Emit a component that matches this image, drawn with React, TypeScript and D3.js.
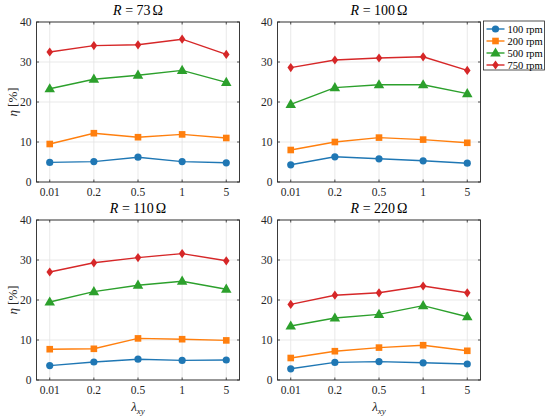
import * as d3 from 'd3';

// lambda_xy categories (evenly spaced on the axis)
const lambdas = ['0.01', '0.2', '0.5', '1', '5'];
const yTicks = [0, 10, 20, 30, 40];
const speeds = ['100 rpm', '200 rpm', '500 rpm', '750 rpm'];
const colors = ['#1f77b4', '#ff7f0e', '#2ca02c', '#d62728'];

// efficiency [%] per speed, one array per panel
const r73 = [
    [4.9, 5.1, 6.2, 5.1, 4.8],
    [9.5, 12.2, 11.2, 11.9, 11.0],
    [23.3, 25.7, 26.7, 27.9, 24.9],
    [32.5, 34.1, 34.3, 35.7, 31.9],
];
const r100 = [
    [4.3, 6.3, 5.8, 5.3, 4.7],
    [8.0, 10.0, 11.1, 10.6, 9.8],
    [19.4, 23.6, 24.3, 24.3, 22.1],
    [28.6, 30.5, 31.0, 31.3, 27.9],
];
const r110 = [
    [3.6, 4.5, 5.2, 4.9, 5.0],
    [7.7, 7.8, 10.4, 10.2, 9.9],
    [19.5, 22.1, 23.7, 24.7, 22.7],
    [27.0, 29.3, 30.6, 31.6, 29.8],
];
const r220 = [
    [2.8, 4.4, 4.6, 4.3, 4.0],
    [5.5, 7.2, 8.1, 8.7, 7.3],
    [13.5, 15.5, 16.4, 18.6, 15.8],
    [18.9, 21.2, 21.8, 23.5, 21.8],
];

const font = 'Liberation Serif';
const axisColor = '#262626';

function Marker({ kind, x, y, color }: { kind: number; x: number; y: number; color: string }) {
    if (kind === 0) return <circle cx={x} cy={y} r={3.6} fill={color} />;
    if (kind === 1) return <rect x={x - 3.3} y={y - 3.3} width={6.6} height={6.6} fill={color} />;
    if (kind === 2) {
        const s = d3.symbol(d3.symbolTriangle, 48)()!;
        return <path d={s} transform={`translate(${x},${y + 0.5})`} fill={color} />;
    }
    const d = `M0,-4.6L3.3,0L0,4.6L-3.3,0Z`;
    return <path d={d} transform={`translate(${x},${y})`} fill={color} />;
}

interface PanelProps {
    left: number;
    top: number;
    ohm: string;
    data: number[][];
    xLabel?: boolean;
    yLabel?: boolean;
}

function Panel({ left, top, ohm, data, xLabel = false, yLabel = false }: PanelProps) {
    const w = 203;
    const h = 160;
    const x = d3.scalePoint<string>().domain(lambdas).range([0, w]).padding(0.3);
    const y = d3.scaleLinear().domain([0, 40]).range([h, 0]);
    const line = d3.line<number>()
        .x((_, i) => x(lambdas[i])!)
        .y((d) => y(d));

    return (
        <g transform={`translate(${left},${top})`} style={{ fontFamily: font }}>
            <rect x={0} y={0} width={w} height={h} fill="#fff" />
            {lambdas.map((l) => (
                <line key={'gx' + l} x1={x(l)} x2={x(l)} y1={0} y2={h} stroke="#e3e3e3" strokeWidth={0.8} />
            ))}
            {yTicks.map((t) => (
                <line key={'gy' + t} x1={0} x2={w} y1={y(t)} y2={y(t)} stroke="#e3e3e3" strokeWidth={0.8} />
            ))}
            {data.map((s, k) => (
                <g key={'s' + k}>
                    <path d={line(s)!} fill="none" stroke={colors[k]} strokeWidth={1.4} />
                    {s.map((v, i) => (
                        <Marker key={i} kind={k} x={x(lambdas[i])!} y={y(v)} color={colors[k]} />
                    ))}
                </g>
            ))}
            <rect x={0} y={0} width={w} height={h} fill="none" stroke={axisColor} strokeWidth={0.9} />
            {lambdas.map((l) => (
                <g key={'tx' + l}>
                    <line x1={x(l)} x2={x(l)} y1={h} y2={h - 2.5} stroke={axisColor} strokeWidth={0.8} />
                    <line x1={x(l)} x2={x(l)} y1={0} y2={2.5} stroke={axisColor} strokeWidth={0.8} />
                    <text x={x(l)} y={h + 14} textAnchor="middle" fontSize={11.5} fill={axisColor}>{l}</text>
                </g>
            ))}
            {yTicks.map((t) => (
                <g key={'ty' + t}>
                    <line x1={0} x2={2.5} y1={y(t)} y2={y(t)} stroke={axisColor} strokeWidth={0.8} />
                    <line x1={w} x2={w - 2.5} y1={y(t)} y2={y(t)} stroke={axisColor} strokeWidth={0.8} />
                    <text x={-5} y={y(t) + 4} textAnchor="end" fontSize={11.5} fill={axisColor}>{t}</text>
                </g>
            ))}
            <text x={w / 2} y={-7} textAnchor="middle" fontSize={14} fill="#000">
                <tspan fontStyle="italic">R</tspan>
                <tspan> = {ohm}</tspan>
                <tspan dx={2}>Ω</tspan>
            </text>
            {xLabel && (
                <text x={w / 2} y={h + 31} textAnchor="middle" fontSize={13} fill={axisColor} fontStyle="italic">
                    λ<tspan fontSize={9} dy={3}>xy</tspan>
                </text>
            )}
            {yLabel && (
                <text transform={`translate(-20,${h / 2}) rotate(-90)`} textAnchor="middle" fontSize={13} fill={axisColor}>
                    <tspan fontStyle="italic">η</tspan> [%]
                </text>
            )}
        </g>
    );
}

function Legend({ left, top }: { left: number; top: number }) {
    return (
        <g transform={`translate(${left},${top})`} style={{ fontFamily: font }}>
            <rect x={0} y={0} width={61} height={49} fill="#fff" stroke={axisColor} strokeWidth={0.8} />
            {speeds.map((s, k) => {
                const yy = 8 + k * 12;
                return (
                    <g key={s}>
                        <line x1={3} x2={21} y1={yy} y2={yy} stroke={colors[k]} strokeWidth={1.4} />
                        <Marker kind={k} x={12} y={yy} color={colors[k]} />
                        <text x={24} y={yy + 3.5} fontSize={10.5} fill="#000">{s}</text>
                    </g>
                );
            })}
        </g>
    );
}

export default function App() {
    return (
        <svg width={550} height={416} style={{ position: 'absolute', left: 0, top: 0, background: '#fff' }}>
            <Panel left={36.5} top={22} ohm="73" data={r73} yLabel />
            <Panel left={277.5} top={22} ohm="100" data={r100} />
            <Panel left={36.5} top={220} ohm="110" data={r110} xLabel yLabel />
            <Panel left={277.5} top={220} ohm="220" data={r220} xLabel />
            <Legend left={483.5} top={21} />
        </svg>
    );
}
